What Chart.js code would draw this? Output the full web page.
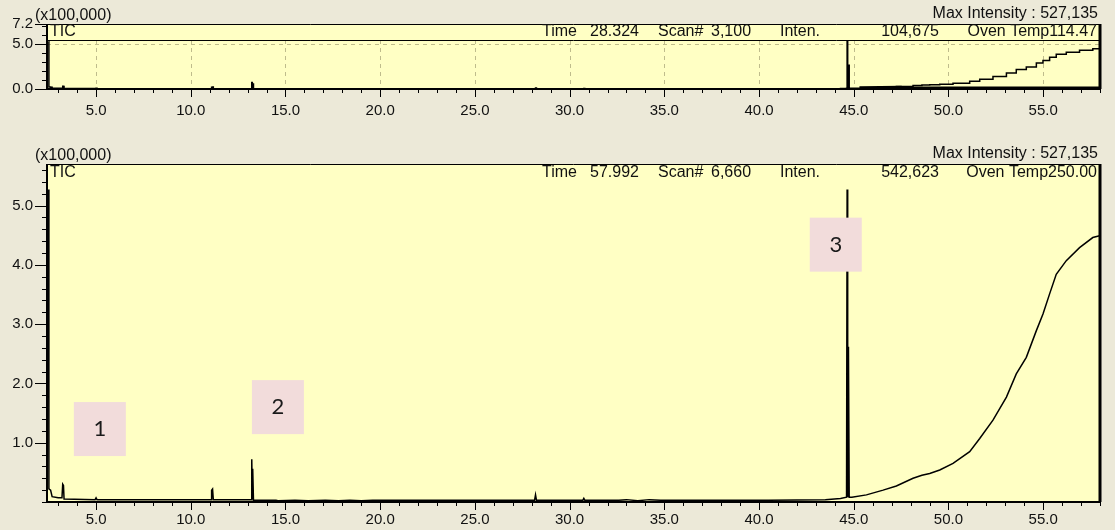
<!DOCTYPE html>
<html>
<head>
<meta charset="utf-8">
<script src="https://cdn.jsdelivr.net/npm/chart.js@4.4.0/dist/chart.umd.min.js"></script>
<style>
  body { margin: 0; background: #ECE9D8; }
  #wrap { position: relative; width: 1115px; height: 530px; overflow: hidden; background: #ECE9D8; }
  canvas { position: absolute; left: 0; }
  #top { top: 0; }
  #main { top: 138px; }
</style>
</head>
<body>
<div id="wrap">
  <canvas id="top" width="1115" height="122"></canvas>
  <canvas id="main" width="1115" height="392"></canvas>
</div>
<script>
// TIC trace: retention time (min) and intensity (x100,000)
const timeMin = [
  2.49, 2.51, 2.6, 2.68, 3.0, 3.2, 3.24, 3.28, 3.31, 4.95, 5.0, 5.05,
  11.08, 11.1, 11.15, 11.19, 13.2, 13.22, 13.25, 13.27, 13.31,
  14.5, 14.6, 15.5, 16.2, 17.1, 17.8, 18.4, 19.0, 19.6, 20.5,
  28.15, 28.2, 28.25, 30.7, 30.75, 30.8, 32.6, 33.0, 33.6, 34.2, 34.8, 35.2,
  40.5, 43.5, 44.3, 44.62, 44.65, 44.68, 44.72, 44.76, 44.9,
  45.67, 46.55, 47.25, 48.13, 48.6, 49.01, 49.54, 50.24, 51.12, 51.65,
  52.35, 53.06, 53.58, 54.11, 54.64, 54.99, 55.34, 55.69, 56.22, 56.92,
  57.62, 57.98
];
const intensity = [
  5.27, 0.22, 0.2, 0.09, 0.07, 0.07, 0.30, 0.28, 0.05, 0.04, 0.07, 0.04,
  0.04, 0.2, 0.22, 0.04, 0.04, 0.72, 0.06, 0.56, 0.03,
  0.03, 0.02, 0.03, 0.02, 0.03, 0.02, 0.03, 0.02, 0.03, 0.03,
  0.03, 0.12, 0.03, 0.03, 0.06, 0.03, 0.03, 0.04, 0.02, 0.04, 0.03, 0.03,
  0.03, 0.04, 0.06, 0.08, 5.27, 0.08, 2.62, 0.08, 0.08,
  0.12, 0.20, 0.27, 0.40, 0.45, 0.48, 0.54, 0.65, 0.85, 1.07,
  1.38, 1.77, 2.16, 2.44, 2.89, 3.17, 3.51, 3.84, 4.07, 4.29,
  4.46, 4.49
];
// heavy baseline drawn in the overview after the big peak
const floorTime = [45.3, 47.5, 47.6, 58.0];
const floorInten = [0.14, 0.2, 0.12, 0.12];

const xTicks = [5, 10, 15, 20, 25, 30, 35, 40, 45, 50, 55];
const yTicksTop = [0, 5, 7.2];
const yTicksMain = [1, 2, 3, 4, 5];

// numbered peak markers
const peakNames = ['1', '2', '3'];
const peakTime = [5.2, 14.6, 44.05];
const peakLevel = [1.23, 1.6, 4.34];

const headerTop = ['28.324', '3,100', '104,675', '114.47'];
const headerMain = ['57.992', '6,660', '542,623', '250.00'];
const maxIntensity = '527,135';

const FONT = "'Liberation Sans', Arial, sans-serif";

function points(xs, ys) {
  return xs.map((x, i) => ({ x: x, y: ys[i] }));
}

const ticPlugin = {
  id: 'tic',
  beforeDraw(chart, args, o) {
    const { ctx, chartArea: a, scales: { x, y } } = chart;
    ctx.save();
    ctx.fillStyle = '#FFFFC4';
    ctx.fillRect(a.left, a.top, a.width, a.height);
    if (o.grid) {
      const gridTop = a.top + 16;
      ctx.strokeStyle = '#BFBC8C';
      ctx.lineWidth = 1;
      ctx.setLineDash([4, 4]);
      ctx.beginPath();
      xTicks.forEach(t => {
        const px = Math.round(x.getPixelForValue(t)) + 0.5;
        ctx.moveTo(px, gridTop); ctx.lineTo(px, a.bottom);
      });
      const py = Math.round(y.getPixelForValue(5)) + 0.5;
      ctx.moveTo(a.left, py); ctx.lineTo(a.right, py);
      ctx.stroke();
    }
    ctx.restore();
  },
  afterDatasetsDraw(chart, args, o) {
    if (!o.peaks) return;
    const { ctx, scales: { x, y } } = chart;
    ctx.save();
    peakNames.forEach((name, i) => {
      const cx = x.getPixelForValue(peakTime[i]);
      const cy = y.getPixelForValue(peakLevel[i]);
      ctx.fillStyle = '#F2DCDB';
      ctx.fillRect(cx - 26, cy - 27, 52, 54);
      ctx.fillStyle = '#1a1a1a';
      ctx.font = "22px Lato, 'Open Sans', sans-serif";
      ctx.textAlign = 'center';
      ctx.textBaseline = 'middle';
      ctx.fillText(name, cx, cy);
    });
    ctx.restore();
  },
  afterDraw(chart, args, o) {
    const { ctx, chartArea: a, scales: { x, y } } = chart;
    ctx.save();
    ctx.strokeStyle = '#000';

    // frame
    ctx.lineWidth = 1;
    ctx.beginPath();
    ctx.moveTo(a.left, a.top + 0.5); ctx.lineTo(a.right, a.top + 0.5);
    if (o.rule) { ctx.moveTo(a.left, a.top + 16.5); ctx.lineTo(a.right, a.top + 16.5); }
    ctx.stroke();
    ctx.lineWidth = 2;
    ctx.beginPath();
    ctx.moveTo(a.left, a.top); ctx.lineTo(a.left, a.bottom);
    ctx.moveTo(a.left, a.bottom); ctx.lineTo(a.right, a.bottom);
    ctx.stroke();
    ctx.lineWidth = 3;
    ctx.beginPath();
    ctx.moveTo(a.right, a.top); ctx.lineTo(a.right, a.bottom);
    ctx.stroke();

    // tick marks, minor and major
    ctx.lineWidth = 1;
    ctx.beginPath();
    for (let t = Math.ceil(x.min); t <= x.max; t++) {
      const px = Math.round(x.getPixelForValue(t)) + 0.5;
      ctx.moveTo(px, a.bottom); ctx.lineTo(px, a.bottom + (t % 5 === 0 ? 8 : 4));
    }
    for (let i = 0; i * o.minorY <= y.max; i++) {
      const py = Math.round(y.getPixelForValue(i * o.minorY)) + 0.5;
      ctx.moveTo(a.left - 5, py); ctx.lineTo(a.left, py);
    }
    o.yTicks.forEach(v => {
      const py = Math.round(y.getPixelForValue(v)) + 0.5;
      ctx.moveTo(a.left - 12, py); ctx.lineTo(a.left, py);
    });
    ctx.stroke();

    // texts
    ctx.fillStyle = '#111';
    ctx.font = '16px ' + FONT;
    ctx.textBaseline = 'middle';
    ctx.textAlign = 'left';
    ctx.fillText('(x100,000)', 35, a.top - 8);
    const h = o.header, hy = a.top + o.headY;
    ctx.fillText('TIC', a.left + 3, hy);
    ctx.fillText('Time', 542, hy);
    ctx.fillText(h[0], 590, hy);
    ctx.fillText('Scan#', 658, hy);
    ctx.fillText(h[1], 711, hy);
    ctx.fillText('Inten.', 780, hy);
    ctx.textAlign = 'right';
    ctx.fillText(h[2], 939, hy);
    ctx.fillText('Oven Temp' + h[3], a.right - 3, hy);
    ctx.fillText('Max Intensity : ' + maxIntensity, a.right - 2, a.top - 10);
    ctx.restore();
  }
};

function makeChart(id, opts) {
  const datasets = [{
    data: points(timeMin, intensity),
    borderColor: '#000',
    borderWidth: 1.5,
    pointRadius: 0,
    stepped: opts.stepped,
    tension: 0
  }];
  if (opts.floor) {
    datasets.push({
      data: points(floorTime, floorInten),
      borderColor: '#000',
      borderWidth: 3,
      pointRadius: 0
    });
  }
  return new Chart(document.getElementById(id), {
    type: 'line',
    data: { datasets: datasets },
    plugins: [ticPlugin],
    options: {
      responsive: false,
      animation: false,
      layout: { padding: { top: opts.top, right: 15, left: 0, bottom: 0 } },
      plugins: {
        legend: { display: false },
        tooltip: { enabled: false },
        tic: {
          grid: opts.grid, rule: opts.grid, peaks: opts.peaks, headY: opts.headY,
          minorY: opts.minorY, yTicks: opts.yTicks, header: opts.header
        }
      },
      scales: {
        x: {
          type: 'linear', min: 2.41, max: 58.0,
          afterFit: s => { s.height = opts.xHeight; },
          afterBuildTicks: s => { s.ticks = xTicks.map(v => ({ value: v })); },
          grid: { display: false, drawTicks: false },
          border: { display: false },
          ticks: {
            autoSkip: false, maxRotation: 0, padding: opts.xPad,
            color: '#111', font: { family: FONT, size: 15 },
            callback: v => v.toFixed(1)
          }
        },
        y: {
          min: 0, max: opts.yMax,
          afterFit: s => { s.width = 47; },
          afterBuildTicks: s => { s.ticks = opts.yTicks.map(v => ({ value: v })); },
          grid: { display: false, drawTicks: false },
          border: { display: false },
          ticks: {
            autoSkip: false, padding: 14,
            color: '#111', font: { family: FONT, size: 15 },
            callback: v => v.toFixed(1)
          }
        }
      }
    }
  });
}

makeChart('top', {
  top: 24, xHeight: 33, xPad: 13, yMax: 7.2, minorY: 1, yTicks: yTicksTop, headY: 8,
  grid: true, peaks: false, stepped: true, floor: true, header: headerTop
});
makeChart('main', {
  top: 26, xHeight: 28, xPad: 9, yMax: 5.7, minorY: 0.2, yTicks: yTicksMain, headY: 9,
  grid: false, peaks: true, stepped: false, floor: false, header: headerMain
});
</script>
</body>
</html>
